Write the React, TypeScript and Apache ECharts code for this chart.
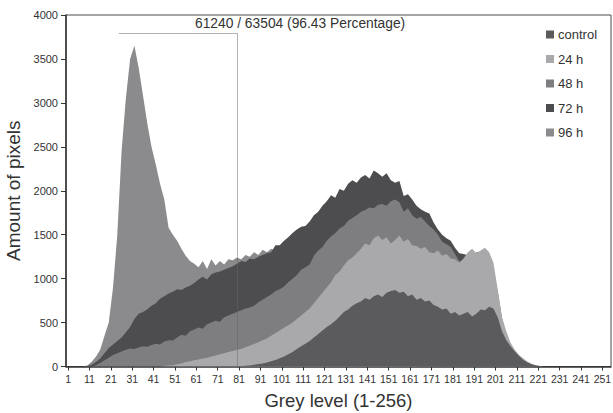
import React, { useEffect, useRef } from "react";
import * as echarts from "echarts";

// Grey-level categories 0..255 (histogram bins); labels shown at 1, 11, 21, ... 251
const CATEGORIES: string[] = Array.from({ length: 256 }, (_, i) => String(i));
const LABEL_EVERY = 10;
const LABEL_OFFSET = 1;
// values are sampled every SAMPLE_STEP grey levels, starting at bin 0
const SAMPLE_STEP = 2;

const Y_MIN = 0;
const Y_MAX = 4000;
const Y_STEP = 500;

const SERIES_NAMES = ["control", "24 h", "48 h", "72 h", "96 h"];

const H96 = [
  0, 0, 0, 0, 0, 10, 55, 110, 190, 350,
  500, 900, 1500, 2450, 3050, 3500, 3650, 3400, 3090, 2770,
  2500, 2300, 2080, 1900, 1580, 1500, 1430, 1340, 1260, 1200,
  1170, 1130, 1200, 1110, 1220, 1150, 1200, 1160, 1220, 1210,
  1240, 1220, 1270, 1250, 1300, 1270, 1330, 1300, 1340, 1320,
  1250, 1150, 1050, 950, 850, 760, 680, 600, 530, 470,
  410, 360, 310, 270, 230, 200, 170, 145, 120, 100,
  85, 70, 58, 48, 40, 32, 26, 20, 15, 12,
  9, 7, 5, 4, 3, 2, 1, 0, 0, 0,
  0, 0, 0, 0, 0, 0, 0, 0, 0, 0,
  0, 0, 0, 0, 0, 0, 0, 0, 0, 0,
  0, 0, 0, 0, 0, 0, 0, 0, 0, 0,
  0, 0, 0, 0, 0, 0, 0, 0,
];

const H72 = [
  0, 0, 0, 0, 0, 5, 20, 50, 90, 150,
  210, 250, 290, 330, 390, 450, 540, 600, 620, 650,
  690, 720, 770, 800, 830, 850, 880, 870, 900, 920,
  950, 990, 1020, 990, 1050, 1070, 1080, 1100, 1120, 1140,
  1170, 1200, 1190, 1230, 1220, 1250, 1270, 1290, 1300, 1380,
  1380, 1430, 1470, 1520, 1560, 1590, 1600, 1650, 1720, 1760,
  1830, 1880, 1950, 1920, 2020, 2000, 2080, 2120, 2090, 2150,
  2180, 2140, 2230, 2200, 2160, 2200, 2120, 2090, 2110, 1940,
  1960, 1900, 1830, 1790, 1760, 1740, 1640, 1560, 1500, 1460,
  1430, 1350, 1290, 1280, 1265, 1230, 1250, 1260, 1240, 1200,
  1100, 850, 550, 350, 220, 130, 80, 45, 20, 8,
  3, 0, 0, 0, 0, 0, 0, 0, 0, 0,
  0, 0, 0, 0, 0, 0, 0, 0,
];

const H48 = [
  0, 0, 0, 0, 0, 0, 0, 15, 40, 70,
  100, 130, 150, 170, 190, 205, 200, 215, 230, 225,
  245, 260, 250, 285, 300, 295, 330, 360, 350, 400,
  420, 445, 430, 480, 500, 520, 510, 560, 580, 600,
  620, 640, 660, 670, 690, 730, 760, 790, 820, 860,
  880, 910, 960, 1000, 1040, 1100, 1130, 1160, 1260, 1320,
  1360, 1430, 1480, 1520, 1570, 1600, 1660, 1690, 1720, 1760,
  1780, 1810, 1800, 1840, 1850, 1830, 1880, 1900, 1870, 1760,
  1800, 1720, 1680, 1700, 1650, 1600, 1560, 1500, 1420, 1390,
  1360, 1280, 1200, 1180, 1200, 1240, 1300, 1310, 1250, 1180,
  1050, 800, 520, 330, 210, 130, 80, 45, 20, 8,
  3, 0, 0, 0, 0, 0, 0, 0, 0, 0,
  0, 0, 0, 0, 0, 0, 0, 0,
];

const H24 = [
  0, 0, 0, 0, 0, 0, 0, 0, 0, 0,
  0, 0, 0, 0, 0, 0, 0, 0, 0, 0,
  0, 0, 0, 5, 10, 15, 25, 35, 50, 60,
  70, 80, 90, 100, 115, 125, 140, 150, 165, 175,
  190, 200, 220, 240, 255, 275, 300, 320, 350, 380,
  410, 440, 470, 500, 540, 580, 620, 660, 720, 780,
  840, 900, 960, 1040, 1080, 1150, 1210, 1240, 1290, 1340,
  1400, 1380, 1460, 1490, 1440, 1470, 1400, 1440, 1490, 1420,
  1450, 1380, 1370, 1340, 1360, 1300, 1290, 1320, 1260, 1280,
  1230, 1220, 1180, 1230, 1300, 1340, 1290, 1320, 1350, 1300,
  1180, 880, 560, 400, 270, 190, 130, 90, 55, 30,
  15, 5, 0, 0, 0, 0, 0, 0, 0, 0,
  0, 0, 0, 0, 0, 0, 0, 0,
];

const HCONTROL = [
  0, 0, 0, 0, 0, 0, 0, 0, 0, 0,
  0, 0, 0, 0, 0, 0, 0, 0, 0, 0,
  0, 0, 0, 0, 0, 0, 0, 0, 0, 0,
  0, 0, 0, 0, 0, 0, 0, 0, 0, 0,
  0, 3, 8, 12, 20, 28, 35, 45, 60, 75,
  95, 115, 140, 165, 200, 230, 260, 290, 330, 370,
  410, 450, 480, 520, 570, 620, 650, 690, 720, 740,
  780, 760, 800, 820, 790, 840, 860, 870, 840, 850,
  800, 820, 760, 780, 740, 750, 700, 680, 650, 660,
  600, 620, 580, 600, 620, 570, 600, 650, 640, 680,
  660, 560, 400, 300, 230, 170, 120, 75, 45, 22,
  10, 3, 0, 0, 0, 0, 0, 0, 0, 0,
  0, 0, 0, 0, 0, 0, 0, 0,
];

// annotation: fraction of the 96 h histogram below grey level 81
const ANNOT_TEXT = "61240 / 63504 (96.43 Percentage)";
const ANNOT_FROM = 25;
const ANNOT_TO = 80;
const ANNOT_Y = 3790;

const COLORS: Record<string, string> = {
  control: "#5b5b5d",
  "24 h": "#a9a9ac",
  "48 h": "#7e7e81",
  "72 h": "#4d4d4f",
  "96 h": "#8b8b8e",
};

const FONT = "'Liberation Sans', Arial, Helvetica, sans-serif";
const TEXT = "#333333";

const toPairs = (vals: number[]) => vals.map((v, k) => [k * SAMPLE_STEP, v]);

export default function App() {
  const ref = useRef<HTMLDivElement>(null);

  useEffect(() => {
    if (!ref.current) return;
    const chart = echarts.init(ref.current, null, { renderer: "svg" });

    const mk = (name: string, vals: number[], extra: any = {}) => ({
      name,
      type: "line",
      data: toPairs(vals),
      showSymbol: false,
      symbol: "none",
      smooth: false,
      lineStyle: { width: 0, color: COLORS[name] },
      itemStyle: { color: COLORS[name] },
      areaStyle: { color: COLORS[name], opacity: 1 },
      emphasis: { disabled: true },
      ...extra,
    });

    const labelShown = (index: number) => index % LABEL_EVERY === LABEL_OFFSET;

    chart.setOption({
      animation: false,
      textStyle: { fontFamily: FONT },
      grid: {
        left: 66,
        right: 2,
        top: 15,
        bottom: 46.5,
        containLabel: false,
        outerBoundsMode: "none",
        show: true,
        borderColor: "#4a4a4a",
        borderWidth: 1,
      },
      legend: {
        data: SERIES_NAMES,
        orient: "vertical",
        left: 546,
        top: 28,
        icon: "rect",
        itemWidth: 8,
        itemHeight: 8,
        itemGap: 11.5,
        padding: 0,
        textStyle: { fontSize: 13, color: TEXT, fontFamily: FONT, padding: [0, 0, 0, -1] },
      },
      xAxis: {
        type: "category",
        data: CATEGORIES,
        boundaryGap: false,
        name: "Grey level (1-256)",
        nameLocation: "middle",
        nameGap: 24,
        nameTextStyle: { fontSize: 18.5, color: TEXT, fontFamily: FONT },
        axisLine: { show: true, lineStyle: { color: "#333", width: 1.5 } },
        axisTick: { show: true, interval: labelShown, length: 4, lineStyle: { color: "#333" } },
        axisLabel: { interval: labelShown, fontSize: 10.5, color: TEXT, margin: 7, fontFamily: FONT },
        splitLine: { show: false },
      },
      yAxis: {
        type: "value",
        min: Y_MIN,
        max: Y_MAX,
        interval: Y_STEP,
        name: "Amount of pixels",
        nameLocation: "middle",
        nameGap: 39,
        nameTextStyle: { fontSize: 19, color: TEXT, fontFamily: FONT },
        axisLine: { show: true, lineStyle: { color: "#333", width: 1.5 } },
        axisTick: { show: true, length: 5, lineStyle: { color: "#333" } },
        axisLabel: {
          fontSize: 11,
          color: TEXT,
          margin: 8,
          fontFamily: FONT,
          formatter: (v: number) => String(v),
        },
        splitLine: { show: false },
      },
      series: [
        mk("96 h", H96),
        mk("72 h", H72),
        mk("48 h", H48),
        mk("24 h", H24),
        mk("control", HCONTROL, {
          markLine: {
            silent: true,
            symbol: ["none", "none"],
            label: { show: false },
            lineStyle: { type: "dotted", color: "#666666", width: 1 },
            data: [
              [{ coord: [ANNOT_FROM, ANNOT_Y] }, { coord: [ANNOT_TO, ANNOT_Y] }],
              [{ coord: [ANNOT_TO, ANNOT_Y] }, { coord: [ANNOT_TO, Y_MIN] }],
            ],
          },
        }),
      ],
      graphic: [
        {
          type: "text",
          left: 195,
          top: 16,
          style: { text: ANNOT_TEXT, fontSize: 13.8, fill: TEXT, fontFamily: FONT },
        },
      ],
    });

    return () => chart.dispose();
  }, []);

  return (
    <div
      ref={ref}
      style={{ position: "absolute", left: 0, top: 0, width: 613, height: 413 }}
    />
  );
}
